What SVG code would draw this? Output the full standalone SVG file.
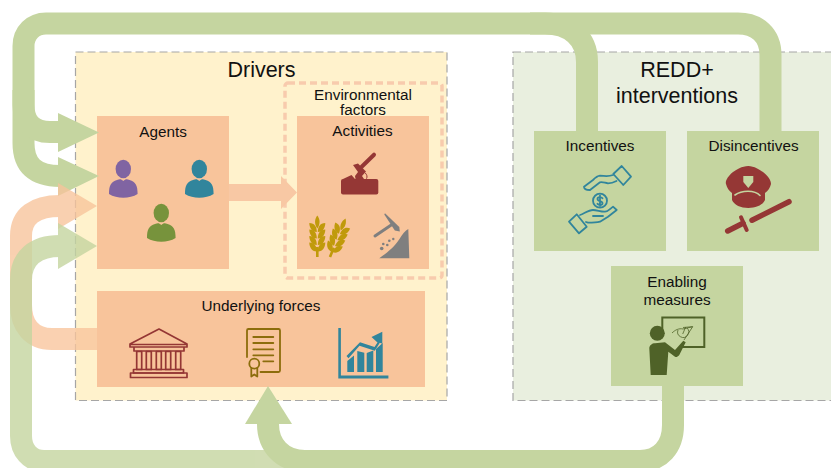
<svg xmlns="http://www.w3.org/2000/svg" width="831" height="468" viewBox="0 0 831 468">
<style>
text{font-family:"Liberation Sans",Arial,sans-serif;fill:#111;text-anchor:middle}
.t{font-size:15.300px}.h{font-size:21.500px}
.pbox{fill:#F8C49B}.gbox{fill:#C5D5A0}
.band{fill:none;stroke-width:22}
.dg{stroke:#C5D5A0}.dgf{fill:#C5D5A0}
.cont{stroke:#A6A6A6;stroke-width:1.200;stroke-dasharray:8 4}
.ic{fill:none;stroke-linecap:round;stroke-linejoin:round}
</style>
<defs>
<g id="person"><ellipse cx="0" cy="-19" rx="7.700" ry="9.300"/><path d="M-14.300 6c0-9 2-12 8-14 3-1 4-1 6.300 1 2.300-2 3.300-2 6.300-1 6 2 8 5 8 14-8 5-20.600 5-28.600 0z"/></g>
<g id="wheat" fill="#C09A0B">
<path d="M-1.300 0h2.600v-10h-2.600z"/>
<path d="M0-41.500c2.500 3.500 3.500 8 0 13-3.500-5-2.500-9.500 0-13z"/>
<g id="pair"><path d="M-.5-25c-5.500 0-7.500-5-7.500-9 5.500 0 7.500 4 7.500 9z"/><path d="M.5-25c5.500 0 7.500-5 7.500-9-5.500 0-7.500 4-7.500 9z"/></g>
<use href="#pair" y="6.500"/><use href="#pair" y="13"/><use href="#pair" y="19.500"/>
</g>
</defs>
<rect id="drivers" class="cont" x="75.500" y="52" width="371.500" height="348.500" fill="#FFF2CC"/>
<rect id="redd" class="cont" x="513" y="52" width="330" height="348.500" fill="#E9EFDF"/>
<g id="labels-containers">
<text class="h" x="261.500" y="76.500">Drivers</text>
<text class="h" x="677" y="76.500">REDD+</text>
<text class="h" x="677" y="103">interventions</text>
</g>
<g id="environmental">
<rect x="285" y="83" width="157" height="195" rx="3" fill="none" stroke="#F8CBAD" stroke-width="3.500" stroke-dasharray="7 4"/>
<text class="t" x="363" y="100">Environmental</text>
<text class="t" x="363" y="115">factors</text>
</g>
<g id="agents">
<rect class="pbox" x="97" y="116" width="132" height="153"/>
<text class="t" x="163" y="136.500">Agents</text>
<use href="#person" x="123.300" y="188" fill="#8064A2"/>
<use href="#person" x="199.300" y="188" fill="#31859C"/>
<use href="#person" x="161.300" y="232" fill="#77933C"/>
</g>
<g id="activities">
<rect class="pbox" x="297" y="116" width="132" height="153"/>
<text class="t" x="362.500" y="136">Activities</text>
<g fill="#953735">
<rect x="341" y="179" width="37.300" height="15.500" rx="2"/>
<path d="M343 179l8.500-4 3.500 4zM353 165l5-1.500 8 8-4 4.500 2 3h-8.500l-.5-3 3-4z"/>
<path d="M361.700 166.700L374 154.700" stroke="#953735" stroke-width="4" stroke-linecap="round"/>
<path d="M365 172.700c2 2 2.500 4 1.500 6" fill="none" stroke="#953735"/>
</g>
<use href="#wheat" x="317.300" y="257"/>
<use href="#wheat" transform="translate(330 257) rotate(22)"/>
<path d="M379.300 258.300c8-6 14-10 20-19 3-5 6-9 9-10.300l1 29.300z" fill="#7F7F7F"/>
<path d="M375 236l17.700-12" stroke="#7F7F7F" stroke-width="3" stroke-linecap="round"/>
<path d="M385 213.300l14.300 13.700.5 4.500-5-1-10.500-16z" fill="#7F7F7F"/>
<g fill="#7F7F7F"><circle cx="381.700" cy="248.500" r="1.800"/><circle cx="383.300" cy="244" r="1.300"/><circle cx="389.300" cy="240.700" r="1.300"/><circle cx="393.300" cy="239" r="1.200"/><circle cx="387.300" cy="245" r="1.300"/></g>
</g>
<g id="underlying">
<rect class="pbox" x="97" y="291" width="328" height="96"/>
<text class="t" x="261" y="311">Underlying forces</text>
<g class="ic" stroke="#943634" stroke-width="1.700">
<path d="M159 329l28 15v3h-57v-3zM130.500 344.500h56.500M134 347v4h50v-4"/>
<rect x="136.700" y="351.500" width="5" height="18"/><rect x="146.300" y="351.500" width="5" height="18"/><rect x="156.300" y="351.500" width="5" height="18"/><rect x="165.700" y="351.500" width="5" height="18"/><rect x="175.700" y="351.500" width="5" height="18"/>
<rect x="133.500" y="369.500" width="50" height="3.500"/><rect x="130.500" y="373" width="56.500" height="4.500"/>
</g>
<g class="ic" stroke="#8C6D0C" stroke-width="1.800">
<path d="M247 357v-26.500q0-1.500 1.500-1.500h30q1.500 0 1.500 1.500v40q0 1.500-1.500 1.500h-18"/>
<path d="M253.300 337h20M253.300 343h20M253.300 349.300h20M253.300 355.300h20M263.300 361.300h10"/>
<circle cx="254.300" cy="363.700" r="5"/><path d="M251.300 368v8.500l3-2 3 2v-8.500"/>
</g>
<g fill="#31859C">
<path d="M338.300 328h2.600v47.500h47.500v3h-50.100z"/>
<path d="M347.300 372v-11l6.700-5.500v16.500zM357.300 372v-21l7 1.800V372zM366.700 372v-19l6.600-2.500V372zM376 372v-23l6.700-6V372z"/>
<path d="M346.500 356l13.500-13.800 14.500 4.800 3-4.500-6-5.500 10.800-5.200v12l-2.500-1-5 8-15.300-5-11 12.500z"/>
</g>
</g>
<g id="incentives">
<rect class="gbox" x="534" y="131" width="132" height="120"/>
<text class="t" x="600" y="151">Incentives</text>
<g class="ic" stroke="#31859C" stroke-width="1.800">
<path d="M621.700 166l9.300 10.700-7.700 8.300-10-11zM613 175c-5 2-9 0.700-13 .7-3 .3-5 2.300-7 4.300l-9 6.700c0 2 1 3.300 6 3.300l10-7.700c3-.5 5 .7 8 1 3 0 6-1 8.500-2.300"/>
<circle cx="600" cy="200.700" r="7"/>
<path d="M602.500 198.300c-1-1.300-5-2-5 .7 0 2.800 5 1.300 5 4.200 0 2.600-4 1.800-5 .6M600 195.500v10.500"/>
<path d="M576.700 214.300l10 12.400-7.700 6.600-10-11.600zM580 215c4-1 8-5 13-5 4 0 8 2 12 1.700 3 0 5-3 8-5l3.700 3.300-8.700 6.700-8 5c-4 1-8 1-12 1l-2-.7M593 216h10"/>
</g>
</g>
<g id="disincentives">
<rect class="gbox" x="687" y="131" width="132" height="120"/>
<text class="t" x="753.500" y="151">Disincentives</text>
<path d="M748.300 166C742 166 736 170 733 172C728 176 725 181 726 184C727 188 729 191 732 193V200C734 205 741 208 748.300 208C756 208 763 205 765 200V193C768 191 770 188 771 184C771 180 768 176 763 172C760 170 754 166 748.300 166z" fill="#953735"/>
<path d="M743.300 176h10v6l-5 6-5-6z" fill="#C5D5A0"/>
<path d="M735 195c4-3 8-3.800 13-3.800s9 1 12 4.300" fill="none" stroke="#C5D5A0" stroke-width="1.600" stroke-linecap="round"/>
<path d="M789 201.700l-37 18.500M743 223.300l-15.300 7.700" stroke="#953735" stroke-width="5.500" stroke-linecap="round"/>
<path d="M741 217.300l5.700 12.700" stroke="#953735" stroke-width="4" stroke-linecap="round"/>
</g>
<g id="enabling">
<rect class="gbox" x="611" y="266" width="132" height="120"/>
<text class="t" x="677" y="287">Enabling</text>
<text class="t" x="677" y="304.500">measures</text>
<path d="M662.300 330v-12.500h42v29.500h-22" fill="none" stroke="#4F6228" stroke-width="2"/>
<circle cx="657.300" cy="333.300" r="7.500" fill="#4F6228"/>
<path d="M649.300 348.300c0-3 3-5 5.700-5l10-1 10 7.700 8.300-9.300 2.400 1.600-6.400 12.700c-2 2-3 2.500-4.300 1.700l-6.700-5-1.600 23.300h-16z" fill="#4F6228"/>
<path d="M684 340l8.700-13.300-9.700.8M672 333c3-3 7-5 11-4l9.700-2.300M678 330a5.500 5.500 0 1 0 9-2M682.700 334l3-7" fill="none" stroke="#4F6228" stroke-width=".8"/>
</g>
<g id="connectors">
<g id="green-flows">
<path class="band dg" d="M587 131V62C587 38 570 23.500 545 23.500H46C33 23.500 23.500 33 23.500 46V143C23.500 165 35 176 60 176"/>
<path class="band dg" d="M770.500 131V55C770.500 35 757 23.500 738 23.500H530"/>
<path class="band dg" d="M23.500 90V105C23.500 122 32 132 50 132H60"/>
<polygon class="dgf" points="58,113 99,132.500 58,152"/>
<polygon class="dgf" points="58,157 99,176 58,196"/>
</g>
<g id="peach-flow" opacity=".78">
<path class="band" stroke="#F8C49B" d="M97 339H52C32 339 21 325 21 305V236C21 216 35 206 60 206"/>
<polygon fill="#F8C49B" points="58,183 97,206 58,229"/>
</g>
<g id="light-green-flow" opacity=".8">
<path class="band dg" d="M320 461H44C30 461 21 450 21 436V280C21 258 35 246 60 246"/>
<polygon class="dgf" points="58,223 97,246 58,269"/>
</g>
<g id="enabling-flow">
<path class="band dg" d="M673 386V425C673 447 660 461 640 461H305C282 461 268 445 268 424"/>
<polygon class="dgf" points="268,386 292,424 245,424"/>
</g>
<g id="agents-to-activities">
<path fill="#F8C8A4" d="M229 184H281V176L297 192.500 281 209V201H229z"/>
</g>
</g>
</svg>
